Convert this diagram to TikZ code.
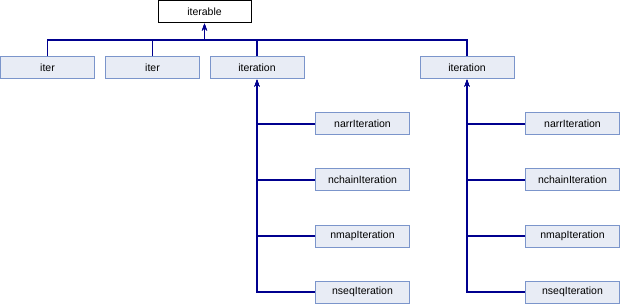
\documentclass[tikz,border=0pt]{standalone}
\usepackage{fontspec}
\setmainfont{Liberation Sans}
\usetikzlibrary{arrows.meta}
\definecolor{boxfill}{HTML}{E8ECF5}
\definecolor{boxdraw}{HTML}{7B95CB}
\definecolor{edgecol}{HTML}{00008F}
\tikzset{
  cls/.style={draw=boxdraw, fill=boxfill, line width=1pt, minimum width=94pt, minimum height=22pt, inner sep=0pt, font=\fontsize{10.5}{12}\selectfont},
  root/.style={cls, draw=black, fill=white, minimum width=93pt},
  edge/.style={draw=edgecol, line width=1.2pt, -{Stealth[length=7pt,width=5pt]}},
}
\begin{document}
\begin{tikzpicture}[x=1pt,y=-1pt]
\useasboundingbox (0,0) rectangle (620,304);
\node[root] (iterable) at (204.5,12) {iterable};
\node[cls] (iterA) at (47.5,68) {iter};
\node[cls] (iterB) at (152.5,68) {iter};
\node[cls] (itnA) at (257,68) {iteration};
\node[cls] (itnB) at (467,68) {iteration};
\coordinate (bus) at (204.5,40);
\foreach \n in {iterA,iterB,itnA,itnB}
  \draw[edge] (\n.north) |- (bus) -- (iterable.south);
\node[cls] (narrA) at (362.5,124) {narrIteration};
\node[cls] (chainA) at (362.5,180) {nchainIteration};
\node[cls] (mapA) at (362.5,236) {nmapIteration};
\node[cls] (seqA) at (362.5,292) {nseqIteration};
\node[cls] (narrB) at (572.5,124) {narrIteration};
\node[cls] (chainB) at (572.5,180) {nchainIteration};
\node[cls] (mapB) at (572.5,236) {nmapIteration};
\node[cls] (seqB) at (572.5,292) {nseqIteration};
\foreach \n in {narrA,chainA,mapA,seqA}
  \draw[edge] (\n.west) -| (itnA.south);
\foreach \n in {narrB,chainB,mapB,seqB}
  \draw[edge] (\n.west) -| (itnB.south);
\end{tikzpicture}
\end{document}
